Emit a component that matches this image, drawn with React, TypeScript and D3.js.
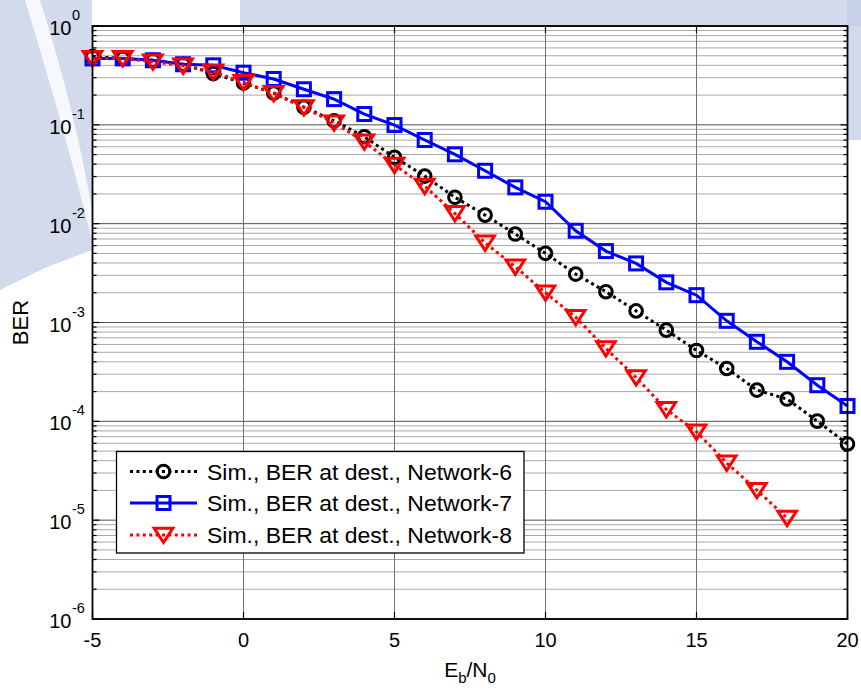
import React from 'react';
import * as d3 from 'd3';

const ebn0All = [-5, -4, -3, -2, -1, 0, 1, 2, 3, 4, 5, 6, 7, 8, 9, 10, 11, 12, 13, 14, 15, 16, 17, 18, 19, 20];
const ebn0Net8 = [-5, -4, -3, -2, -1, 0, 1, 2, 3, 4, 5, 6, 7, 8, 9, 10, 11, 12, 13, 14, 15, 16, 17, 18];

const berNet6 = [0.49, 0.47, 0.45, 0.41, 0.33, 0.265, 0.21, 0.151, 0.11, 0.0758, 0.0469, 0.0303, 0.0185, 0.0122,
  0.00785, 0.00501, 0.00309, 0.00205, 0.00131, 0.000837, 0.000521, 0.000343, 0.000207, 0.000168, 0.0001005, 5.9e-5];
const berNet7 = [0.47, 0.47, 0.45, 0.41, 0.4, 0.337, 0.291, 0.229, 0.182, 0.1286, 0.0995, 0.0702, 0.0503, 0.0343,
  0.0233, 0.01667, 0.00848, 0.00528, 0.00396, 0.00255, 0.00189, 0.00104, 0.000638, 0.0004, 0.000232, 0.000143];
const berNet8 = [0.47, 0.47, 0.435, 0.396, 0.345, 0.269, 0.208, 0.15, 0.105, 0.0675, 0.0392, 0.024, 0.0127, 0.0064,
  0.00366, 0.002, 0.00113, 0.000546, 0.000278, 0.000132, 7.83e-5, 3.8e-5, 2.01e-5, 1.05e-5];

const xTicks = [-5, 0, 5, 10, 15, 20];
const yExponents = [0, -1, -2, -3, -4, -5, -6];
const legendLabels = [
  'Sim., BER at dest., Network-6',
  'Sim., BER at dest., Network-7',
  'Sim., BER at dest., Network-8',
];

const W = 861;
const H = 692;
const M = { left: 92.5, right: 847.5, top: 26, bottom: 619 };
const FONT = "'Liberation Sans', Arial, Helvetica, sans-serif";
const WATERMARK = '#c3cee5';

const x = d3.scaleLinear().domain([-5, 20]).range([M.left, M.right]);
const y = d3.scaleLog().domain([1e-6, 1]).range([M.bottom, M.top]);

type Series = { xs: number[]; ys: number[]; color: string; dash: string | null; marker: 'circle' | 'square' | 'tri' };

const series: Series[] = [
  { xs: ebn0All, ys: berNet6, color: '#000000', dash: '3 3.4', marker: 'circle' },
  { xs: ebn0All, ys: berNet7, color: '#0000ff', dash: null, marker: 'square' },
  { xs: ebn0Net8, ys: berNet8, color: '#ff0000', dash: '3 3.4', marker: 'tri' },
];

function Marker({ kind, cx, cy, color }: { kind: string; cx: number; cy: number; color: string }) {
  if (kind === 'circle') return <circle cx={cx} cy={cy} r={6.3} fill="none" stroke={color} strokeWidth={3} />;
  if (kind === 'square')
    return <rect x={cx - 6.5} y={cy - 6.5} width={13} height={13} fill="none" stroke={color} strokeWidth={3} />;
  const p = `M${cx - 9.3},${cy - 6.8}L${cx + 9.3},${cy - 6.8}L${cx},${cy + 7.6}Z`;
  return <path d={p} fill="none" stroke={color} strokeWidth={3} strokeLinejoin="miter" />;
}

export default function App() {
  const line = d3
    .line<[number, number]>()
    .x((d) => x(d[0]))
    .y((d) => y(d[1]));

  const majorY = yExponents.map((e) => Math.pow(10, e));
  const minorY: number[] = [];
  for (let e = -6; e < 0; e++) for (let m = 2; m <= 9; m++) minorY.push(m * Math.pow(10, e));

  const legX = 116.5;
  const legY = 451.5;
  const legW = 407.5;
  const legH = 101.5;
  const rowY = [471.5, 503, 535];

  return (
    <svg width={W} height={H} style={{ position: 'fixed', left: 0, top: 0, background: '#fff' }} fontFamily={FONT}>
      <rect x={0} y={0} width={W} height={H} fill="#fff" />
      {/* faint background watermark in the margins */}
      <path d="M0,0 L92,0 L92,250 L45,268 L0,290 Z" fill={WATERMARK} opacity={0.75} />
      <path d="M40,0 Q75,110 92,210 L92,240 Q62,120 25,0 Z" fill="#fff" opacity={0.8} />
      <rect x={240} y={0} width={621} height={26} fill={WATERMARK} opacity={0.75} />
      <rect x={847} y={0} width={14} height={140} fill={WATERMARK} opacity={0.75} />
      <rect x={M.left} y={M.top} width={M.right - M.left} height={M.bottom - M.top} fill="#fff" />
      {/* grid */}
      {minorY.map((v, i) => (
        <line key={'mg' + i} x1={M.left} x2={M.right} y1={y(v)} y2={y(v)} stroke="#a8a8a8" strokeWidth={1} />
      ))}
      {majorY.map((v, i) => (
        <line key={'Mg' + i} x1={M.left} x2={M.right} y1={y(v)} y2={y(v)} stroke="#505050" strokeWidth={1} />
      ))}
      {xTicks.map((t) => (
        <line key={'xg' + t} x1={x(t)} x2={x(t)} y1={M.top} y2={M.bottom} stroke="#707070" strokeWidth={1} />
      ))}
      {/* ticks */}
      {minorY.map((v, i) => (
        <g key={'mt' + i}>
          <line x1={M.left} x2={M.left + 4} y1={y(v)} y2={y(v)} stroke="#000" strokeWidth={1.2} />
          <line x1={M.right} x2={M.right - 4} y1={y(v)} y2={y(v)} stroke="#000" strokeWidth={1.2} />
        </g>
      ))}
      {majorY.map((v, i) => (
        <g key={'Mt' + i}>
          <line x1={M.left} x2={M.left + 7} y1={y(v)} y2={y(v)} stroke="#000" strokeWidth={1.2} />
          <line x1={M.right} x2={M.right - 7} y1={y(v)} y2={y(v)} stroke="#000" strokeWidth={1.2} />
        </g>
      ))}
      {xTicks.map((t) => (
        <g key={'xt' + t}>
          <line x1={x(t)} x2={x(t)} y1={M.bottom} y2={M.bottom - 7} stroke="#000" strokeWidth={1.2} />
          <line x1={x(t)} x2={x(t)} y1={M.top} y2={M.top + 7} stroke="#000" strokeWidth={1.2} />
        </g>
      ))}
      {/* series */}
      {series.map((s, si) => {
        const pts = s.xs.map((xv, i) => [xv, s.ys[i]] as [number, number]);
        return (
          <g key={'s' + si}>
            <path
              d={line(pts) || ''}
              fill="none"
              stroke={s.color}
              strokeWidth={3}
              strokeDasharray={s.dash || undefined}
            />
            {pts.map((p, i) => (
              <Marker key={i} kind={s.marker} cx={x(p[0])} cy={y(p[1])} color={s.color} />
            ))}
          </g>
        );
      })}
      {/* axes box */}
      <rect x={M.left} y={M.top} width={M.right - M.left} height={M.bottom - M.top} fill="none" stroke="#000" strokeWidth={1.8} />
      {/* x tick labels */}
      {xTicks.map((t) => (
        <text key={'xl' + t} x={x(t)} y={647} fontSize={20} textAnchor="middle" fill="#000">
          {t}
        </text>
      ))}
      {/* y tick labels */}
      {yExponents.map((e) => {
        const yy = y(Math.pow(10, e));
        return (
          <g key={'yl' + e}>
            <text x={71.5} y={yy + 9} fontSize={20} textAnchor="end" fill="#000">
              10
            </text>
            <text x={72} y={yy - 6} fontSize={14.5} textAnchor="start" fill="#000">
              {e}
            </text>
          </g>
        );
      })}
      {/* axis labels */}
      <text transform={`translate(28,${(M.top + M.bottom) / 2}) rotate(-90)`} fontSize={22} textAnchor="middle" fill="#000">
        BER
      </text>
      <text x={(M.left + M.right) / 2} y={677} fontSize={21} textAnchor="middle" fill="#000">
        E<tspan fontSize={15} dy={6}>b</tspan>
        <tspan dy={-6}>/N</tspan>
        <tspan fontSize={15} dy={6}>0</tspan>
      </text>
      {/* legend */}
      <rect x={legX} y={legY} width={legW} height={legH} fill="#fff" stroke="#000" strokeWidth={1.3} />
      {series.map((s, i) => (
        <g key={'lg' + i}>
          <line
            x1={130}
            x2={197}
            y1={rowY[i]}
            y2={rowY[i]}
            stroke={s.color}
            strokeWidth={3}
            strokeDasharray={s.dash || undefined}
          />
          <Marker kind={s.marker} cx={163.5} cy={rowY[i]} color={s.color} />
          <text x={207} y={rowY[i] + 8} fontSize={22} textLength={305} lengthAdjust="spacingAndGlyphs" fill="#000">
            {legendLabels[i]}
          </text>
        </g>
      ))}
    </svg>
  );
}
